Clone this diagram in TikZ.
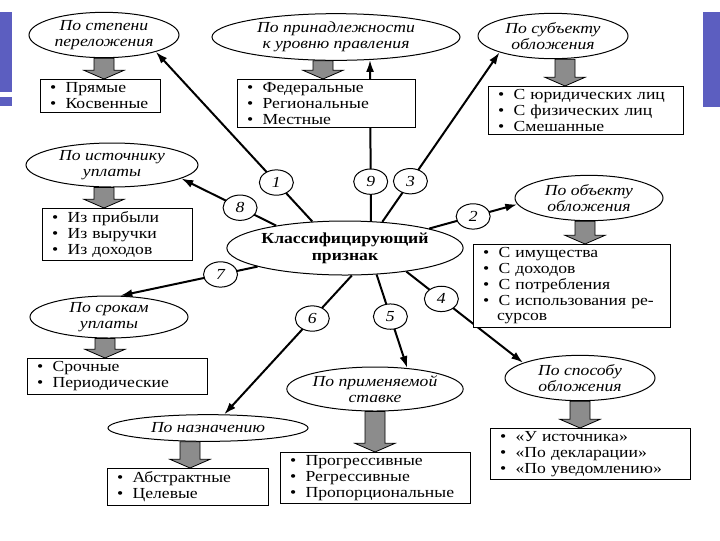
\documentclass[tikz,border=0pt]{standalone}
\usepackage{fontspec}
\setmainfont{Liberation Serif}[FakeStretch=1.15]
\usetikzlibrary{shapes.geometric,arrows.meta,calc}

\definecolor{slideblue}{RGB}{92,94,192}
\definecolor{arrowgray}{RGB}{140,140,140}

\tikzset{every picture/.style={line width=0.75pt}}
\tikzset{
  cat/.style={ellipse, draw, fill=white, inner sep=0pt, align=center, font=\fontsize{11.5}{12}\selectfont\itshape},
  num/.style={ellipse, draw, fill=white, arrows=-, line width=0.75pt, inner sep=0pt, minimum width=25.5pt, minimum height=19pt, font=\fontsize{11.5}{12}\selectfont\itshape},
  listbox/.style={draw, fill=white, anchor=north west, align=left, inner xsep=5pt, inner ysep=2.5pt, font=\fontsize{11.5}{11.8}\selectfont},
  link/.style={line width=1.5pt, -{Latex[length=9pt,width=6pt]}},
  garrow/.style={draw=black, line width=0.6pt, fill=arrowgray},
}

\newcommand{\itm}{\hspace*{0.2em}\textbullet\hspace{0.6em}}
% fat gray arrow from an ellipse down to its list
\newcommand{\grayarrow}[3][0pt]{%
  \draw[garrow] ($(#2.south)+(#1-7.5pt,0)$) -- ($(#2.south)+(#1+7.5pt,0)$)
    -- ($(#3.north -| #2.south)+(#1+7.5pt,-6.5pt)$) -- ($(#3.north -| #2.south)+(#1+15pt,-6.5pt)$)
    -- ($(#3.north -| #2.south)+(#1,0)$) -- ($(#3.north -| #2.south)+(#1-15pt,-6.5pt)$)
    -- ($(#3.north -| #2.south)+(#1-7.5pt,-6.5pt)$) -- cycle;}

\begin{document}
\begin{tikzpicture}[x=0.75pt,y=0.75pt,yscale=-1,xscale=1]
\path (0,0) rectangle (720,540); %set diagram size 720 x 540

%Shape: Rectangle (slide bars)
\fill[slideblue] (0,12) rectangle (12,92);
\fill[slideblue] (0,97) rectangle (12,106);
\fill[slideblue] (703,12) rectangle (720,107);

%Shape: Ellipse
\node[cat, minimum width=112.5pt, minimum height=34pt] (e1) at (104,35) {По степени\\переложения};
\node[cat, minimum width=186pt, minimum height=35pt] (e9) at (336,37) {По принадлежности\\к уровню правления};
\node[cat, minimum width=112.5pt, minimum height=34pt] (e3) at (553,36) {По субъекту\\обложения};
\node[cat, minimum width=129pt, minimum height=33pt] (e8) at (112,165) {По источнику\\уплаты};
\node[cat, minimum width=111pt, minimum height=34pt] (e2) at (589,198) {По объекту\\обложения};
\node[cat, minimum width=118.5pt, minimum height=31.5pt] (e7) at (109,317) {По срокам\\уплаты};
\node[cat, minimum width=126pt, minimum height=33pt] (e5) at (375,389) {По применяемой\\ставке};
\node[cat, minimum width=112.5pt, minimum height=34pt] (e4) at (580,378) {По способу\\обложения};
\node[cat, minimum width=150pt, minimum height=20pt] (e6) at (208,428) {По назначению};
\node[cat, font=\fontsize{11.5}{13}\selectfont\bfseries, minimum width=175.5pt, minimum height=40.5pt] (cls) at (345,248) {Классифицирующий\\признак};

%Straight Lines with numbers
\draw[link] (cls.141) -- node[num, pos=0.23] (n1) {1} (e1.-18);
\draw[link] (cls.46) -- node[num, pos=0.245] (n9) {9} (e9.-34);
\draw[link] (cls.35) -- node[num, pos=0.24] (n3) {3} (e3.197);
\draw[link] (cls.162) -- node[num, pos=0.38] (n8) {8} (e8.-11);
\draw[link] (cls.13) -- node[num, pos=0.5] (n2) {2} (e2.185);
\draw[link] (cls.192) -- node[num, pos=0.27] (n7) {7} (e7.62);
\draw[link] (cls.-21) -- node[num, pos=0.3] (n4) {4} (e4.165);
\draw[link] (cls.-40) -- node[num, pos=0.45] (n5) {5} (e5.33);
\draw[link] (cls.-76) -- node[num, pos=0.31] (n6) {6} (e6.40);

% Text Node (lists)
\node[listbox, text width=80pt] (b1) at (40,79) {\itm Прямые\\\itm Косвенные};
\node[listbox, text width=123.5pt] (b9) at (237,79) {\itm Федеральные\\\itm Региональные\\\itm Местные};
\node[listbox, text width=136pt] (b3) at (488,86) {\itm С юридических лиц\\\itm С физических лиц\\\itm Смешанные};
\node[listbox, text width=102.5pt] (b8) at (42,208) {\itm Из прибыли\\\itm Из выручки\\\itm Из доходов};
\node[listbox, text width=138pt] (b2) at (473,244) {\itm С имущества\\\itm С доходов\\\itm С потребления\\\itm С использования ре-\\\hspace*{1.1em}сурсов};
\node[listbox, text width=125pt] (b7) at (27,358) {\itm Срочные\\\itm Периодические};
\node[listbox, text width=110.75pt] (b6) at (107,468) {\itm Абстрактные\\\itm Целевые};
\node[listbox, text width=132.5pt] (b5) at (280,452) {\itm Прогрессивные\\\itm Регрессивные\\\itm Пропорциональные};
\node[listbox, text width=140pt] (b4) at (490,428) {\itm «У источника»\\\itm «По декларации»\\\itm «По уведомлению»};

%Shape: Down Arrow
\grayarrow{e1}{b1}
\grayarrow[-9.75pt]{e9}{b9}
\grayarrow[9pt]{e3}{b3}
\grayarrow[-6pt]{e8}{b8}
\grayarrow[-3pt]{e2}{b2}
\grayarrow[-3pt]{e7}{b7}
\grayarrow{e5}{b5}
\grayarrow{e4}{b4}
\grayarrow[-13.5pt]{e6}{b6}

\end{tikzpicture}
\end{document}
